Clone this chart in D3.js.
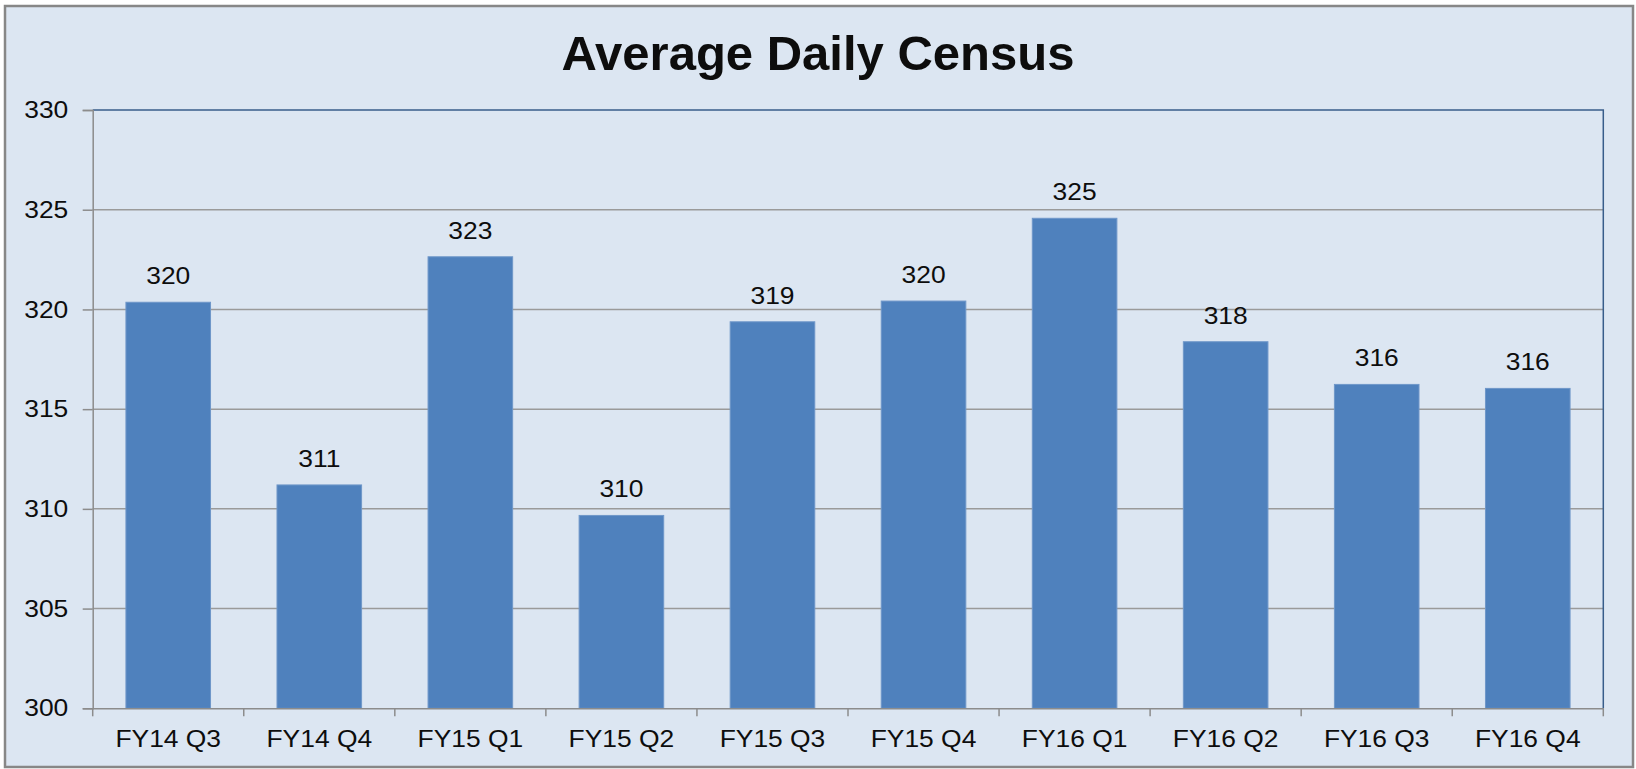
<!DOCTYPE html>
<html>
<head>
<meta charset="utf-8">
<script src="https://cdn.jsdelivr.net/npm/d3@7"></script>
<style>
  body { margin: 0; background: #ffffff; }
  text { font-family: "Liberation Sans", Arial, sans-serif; fill: #0d0d0d; }
</style>
</head>
<body>
<div id="chart"></div>
<script>
// chart data
var categories = ["FY14 Q3", "FY14 Q4", "FY15 Q1", "FY15 Q2", "FY15 Q3",
                  "FY15 Q4", "FY16 Q1", "FY16 Q2", "FY16 Q3", "FY16 Q4"];
var census = [320.36, 311.2, 322.64, 309.67, 319.38, 320.42, 324.57, 318.38, 316.24, 316.04];
var yTicks = [300, 305, 310, 315, 320, 325, 330];
var title = "Average Daily Census";

var W = 1636, H = 769;
var margin = {top: 110, right: 32.7, bottom: 60.7, left: 92.7},
    width = W - margin.left - margin.right,
    height = H - margin.top - margin.bottom;
var sx = 1.1; // reference text is a bit wide

var svg = d3.select("#chart").append("svg")
    .attr("width", W).attr("height", H);

// outer frame
svg.append("rect")
    .attr("x", 5).attr("y", 6).attr("width", 1628).attr("height", 761)
    .attr("fill", "#dce6f2").attr("stroke", "#878787").attr("stroke-width", 2.5);

svg.append("text")
    .attr("x", 818).attr("y", 70)
    .attr("text-anchor", "middle")
    .style("font-size", "49px").style("font-weight", "bold")
    .text(title);

var g = svg.append("g")
    .attr("transform", "translate(" + margin.left + "," + margin.top + ")");

var x = d3.scaleBand().domain(categories).range([0, width])
    .paddingInner(0.44).paddingOuter(0.22);
var y = d3.scaleLinear().domain([300, 330]).range([height, 0]);

// gridlines
g.selectAll(".grid").data(yTicks.slice(1, -1)).enter().append("line")
    .attr("x1", 0).attr("x2", width)
    .attr("y1", function(d) { return y(d); }).attr("y2", function(d) { return y(d); })
    .attr("stroke", "#9a9a9a").attr("stroke-width", 1.5);

// plot border top + right
g.append("path")
    .attr("d", "M0," + y(330) + "H" + width + "V" + height)
    .attr("fill", "none").attr("stroke", "#385d8a").attr("stroke-width", 1.5);

// bars
g.selectAll(".bar").data(census).enter().append("rect")
    .attr("x", function(d, i) { return x(categories[i]); })
    .attr("width", x.bandwidth())
    .attr("y", function(d) { return y(d); })
    .attr("height", function(d) { return height - y(d); })
    .attr("fill", "#4f81bd").attr("stroke", "#6f97c9").attr("stroke-width", 1);

// value labels
g.selectAll(".lbl").data(census).enter().append("text")
    .attr("transform", function(d, i) {
        return "translate(" + (x(categories[i]) + x.bandwidth() / 2) + "," + (y(d) - 18) + ") scale(" + sx + ",1)";
    })
    .attr("text-anchor", "middle")
    .style("font-size", "24px")
    .text(function(d) { return Math.round(d); });

// y axis
var yAxis = g.append("g")
    .call(d3.axisLeft(y).tickValues(yTicks).tickSize(10).tickPadding(12.2).tickFormat(d3.format("d")));
yAxis.attr("font-family", null);
yAxis.select(".domain").attr("stroke", "#8c8c8c").attr("stroke-width", 1.5);
yAxis.selectAll(".tick line").attr("stroke", "#8c8c8c").attr("stroke-width", 1.5);
yAxis.selectAll(".tick text")
    .style("font-size", "24px").attr("fill", "#0d0d0d")
    .attr("transform", "scale(" + sx + ",1)");

// x axis
var xAxis = g.append("g")
    .attr("transform", "translate(0," + height + ")")
    .call(d3.axisBottom(x).tickSize(0).tickPadding(21.5));
xAxis.attr("font-family", null);
xAxis.select(".domain").attr("stroke", "#8c8c8c").attr("stroke-width", 1.5);
xAxis.selectAll(".tick text")
    .style("font-size", "24px").attr("fill", "#0d0d0d")
    .attr("transform", "scale(" + sx + ",1)");

// boundary ticks between categories
var bounds = d3.range(categories.length + 1).map(function(i) { return i * x.step(); });
xAxis.selectAll(".btick").data(bounds).enter().append("line")
    .attr("x1", function(d) { return d; }).attr("x2", function(d) { return d; })
    .attr("y1", 0).attr("y2", 8)
    .attr("stroke", "#8c8c8c").attr("stroke-width", 1.5);
</script>
</body>
</html>
